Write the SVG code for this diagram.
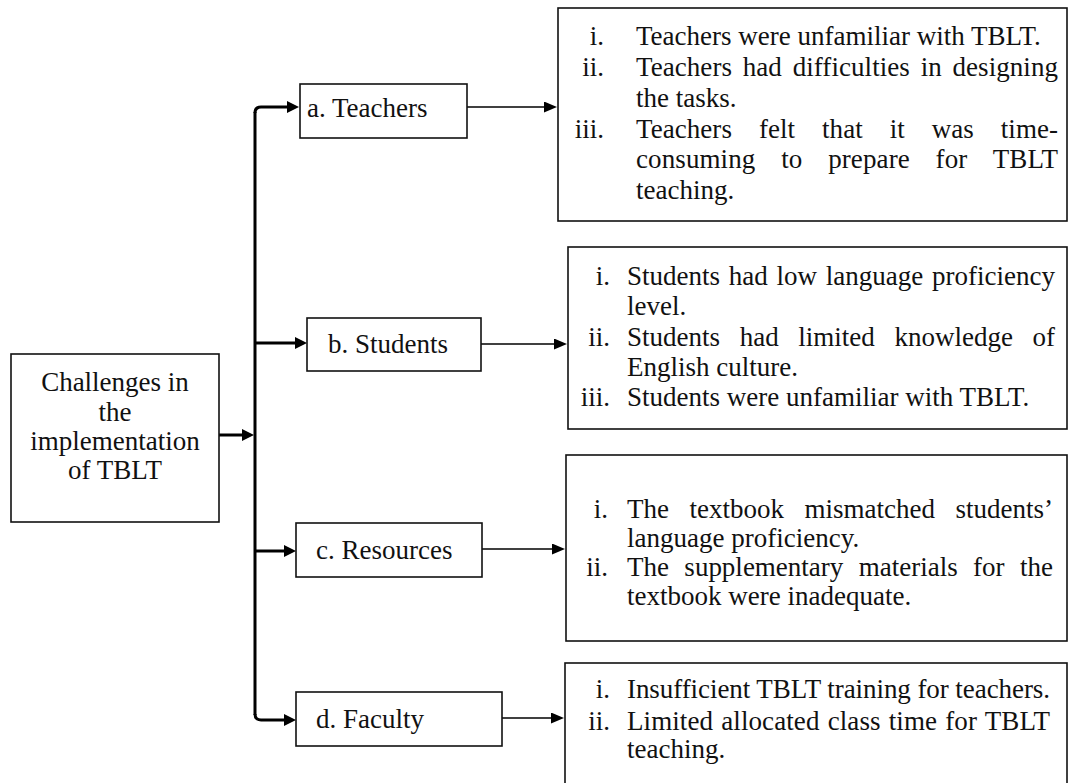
<svg xmlns="http://www.w3.org/2000/svg" width="1069" height="783" viewBox="0 0 1069 783">
  <style>
    text { font-family: "Liberation Serif", "DejaVu Serif", "Times New Roman", Times, serif; font-size: 27px; fill: #111; }
    .box { fill: #fff; stroke: #111; stroke-width: 1.6; }
    .thick { fill: none; stroke: #000; stroke-width: 3; }
    .thin { fill: none; stroke: #000; stroke-width: 1.5; }
    .num { text-anchor: end; }
    .mid { text-anchor: middle; }
  </style>
  <defs>
    <marker id="ahThick" viewBox="0 0 12 12" refX="2" refY="6" markerWidth="12" markerHeight="12" markerUnits="userSpaceOnUse" orient="auto">
      <path d="M0,0 L12,6 L0,12 z" fill="#000"/>
    </marker>
    <marker id="ahThin" viewBox="0 0 13 11" refX="1" refY="5.5" markerWidth="13" markerHeight="11" markerUnits="userSpaceOnUse" orient="auto">
      <path d="M0,0 L13,5.5 L0,11 z" fill="#000"/>
    </marker>
  </defs>

  <g id="connectors">
    <path class="thick" d="M219,435 H244" marker-end="url(#ahThick)"/>
    <path class="thick" d="M255,112 V715"/>
    <path class="thick" d="M255,113 Q255,107 261,107 H289" marker-end="url(#ahThick)"/>
    <path class="thick" d="M255,343 H297" marker-end="url(#ahThick)"/>
    <path class="thick" d="M255,551 H286" marker-end="url(#ahThick)"/>
    <path class="thick" d="M255,714 Q255,720 261,720 H286" marker-end="url(#ahThick)"/>
    <path class="thin" d="M467,107 H545" marker-end="url(#ahThin)"/>
    <path class="thin" d="M481,344 H555" marker-end="url(#ahThin)"/>
    <path class="thin" d="M482,549 H553" marker-end="url(#ahThin)"/>
    <path class="thin" d="M502,718 H552" marker-end="url(#ahThin)"/>
  </g>

  <g id="root">
    <rect class="box" x="11" y="354" width="208" height="168"/>
    <text class="mid" x="115" y="391">Challenges in</text>
    <text class="mid" x="115" y="421">the</text>
    <text class="mid" x="115" y="450">implementation</text>
    <text class="mid" x="115" y="479">of TBLT</text>
  </g>

  <g id="teachers">
    <rect class="box" x="300" y="84" width="167" height="54"/>
    <text x="307" y="117">a. Teachers</text>
  </g>
  <g id="students">
    <rect class="box" x="307" y="318" width="174" height="53"/>
    <text x="328" y="353">b. Students</text>
  </g>
  <g id="resources">
    <rect class="box" x="296" y="523" width="186" height="54"/>
    <text x="316" y="559">c. Resources</text>
  </g>
  <g id="faculty">
    <rect class="box" x="296" y="692" width="206" height="54"/>
    <text x="316" y="728">d. Faculty</text>
  </g>

  <g id="teachers-details">
    <rect class="box" x="558" y="8" width="509" height="213"/>
    <text class="num" x="604" y="45">i.</text>
    <text x="636" y="45">Teachers were unfamiliar with TBLT.</text>
    <text class="num" x="604" y="76">ii.</text>
    <text x="636" y="76" word-spacing="3.9" textLength="422" lengthAdjust="spacing">Teachers had difficulties in designing</text>
    <text x="636" y="106.5">the tasks.</text>
    <text class="num" x="604" y="137.5">iii.</text>
    <text x="636" y="137.5" word-spacing="20.1" textLength="422" lengthAdjust="spacing">Teachers felt that it was time-</text>
    <text x="636" y="168" word-spacing="18.9" textLength="422" lengthAdjust="spacing">consuming to prepare for TBLT</text>
    <text x="636" y="198.5">teaching.</text>
  </g>

  <g id="students-details">
    <rect class="box" x="568" y="247" width="499" height="182"/>
    <text class="num" x="610" y="285">i.</text>
    <text x="627" y="285" word-spacing="2" textLength="428" lengthAdjust="spacing">Students had low language proficiency</text>
    <text x="627" y="315">level.</text>
    <text class="num" x="610" y="346">ii.</text>
    <text x="627" y="346" word-spacing="12.9" textLength="428" lengthAdjust="spacing">Students had limited knowledge of</text>
    <text x="627" y="376">English culture.</text>
    <text class="num" x="610" y="406">iii.</text>
    <text x="627" y="406">Students were unfamiliar with TBLT.</text>
  </g>

  <g id="resources-details">
    <rect class="box" x="566" y="455" width="501" height="186"/>
    <text class="num" x="608" y="518">i.</text>
    <text x="627" y="518" word-spacing="13.75" textLength="426" lengthAdjust="spacing">The textbook mismatched students’</text>
    <text x="627" y="547">language proficiency.</text>
    <text class="num" x="608" y="576">ii.</text>
    <text x="627" y="576" word-spacing="8.65" textLength="426" lengthAdjust="spacing">The supplementary materials for the</text>
    <text x="627" y="605">textbook were inadequate.</text>
  </g>

  <g id="faculty-details">
    <rect class="box" x="565" y="663" width="502" height="130"/>
    <text class="num" x="610" y="698">i.</text>
    <text x="627" y="698" textLength="423" lengthAdjust="spacing">Insufficient TBLT training for teachers.</text>
    <text class="num" x="610" y="730">ii.</text>
    <text x="627" y="730" word-spacing="1.35" textLength="423" lengthAdjust="spacing">Limited allocated class time for TBLT</text>
    <text x="627" y="758">teaching.</text>
  </g>
</svg>
